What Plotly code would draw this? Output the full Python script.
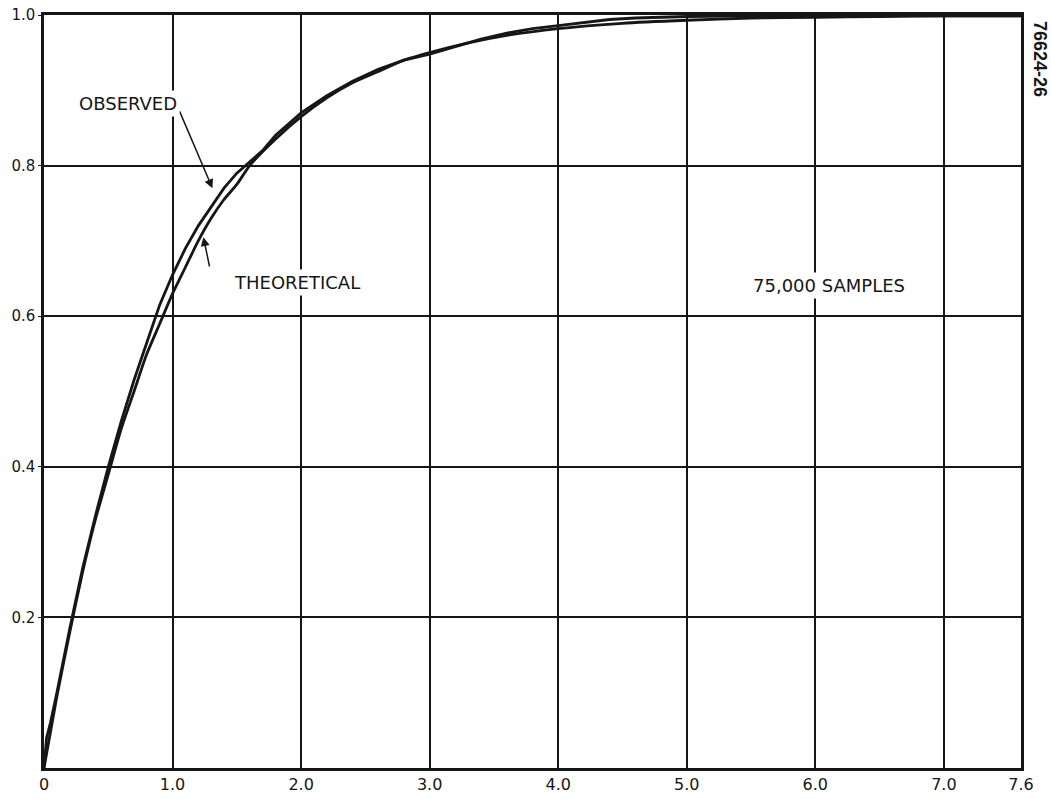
import plotly.graph_objects as go

# Theoretical curve
theo_x = [0, 0.1, 0.2, 0.3, 0.4, 0.5, 0.6, 0.7, 0.8, 0.9, 1.0, 1.1, 1.2, 1.3, 1.4, 1.5,
          1.6, 1.8, 2.0, 2.2, 2.4, 2.6, 2.8, 3.0, 3.3, 3.6, 4.0, 4.5, 5.0, 5.5, 6.0,
          6.5, 7.0, 7.6]
theo_y = [0, 0.095, 0.18, 0.26, 0.33, 0.39, 0.45, 0.50, 0.55, 0.59, 0.63, 0.665, 0.70,
          0.73, 0.755, 0.775, 0.80, 0.835, 0.865, 0.89, 0.91, 0.925, 0.94, 0.95, 0.963,
          0.973, 0.982, 0.989, 0.993, 0.996, 0.997, 0.998, 0.999, 0.999]

# Observed curve
obs_x = [0, 0.02, 0.05, 0.1, 0.2, 0.3, 0.4, 0.5, 0.6, 0.7, 0.8, 0.85, 0.9, 1.0, 1.1,
         1.2, 1.3, 1.4, 1.5, 1.6, 1.7, 1.8, 2.0, 2.2, 2.4, 2.6, 2.8, 3.0, 3.2, 3.4,
         3.6, 3.8, 4.0, 4.2, 4.4, 4.6, 5.0, 5.5, 6.0, 6.5, 7.0, 7.6]
obs_y = [0, 0.04, 0.06, 0.10, 0.185, 0.265, 0.335, 0.40, 0.46, 0.515, 0.565, 0.59,
         0.615, 0.655, 0.69, 0.72, 0.745, 0.77, 0.79, 0.805, 0.82, 0.84, 0.87, 0.893,
         0.912, 0.928, 0.94, 0.948, 0.958, 0.968, 0.976, 0.982, 0.986, 0.990, 0.994,
         0.996, 0.998, 0.999, 0.999, 0.999, 0.999, 0.999]

x_tickvals = [0, 1, 2, 3, 4, 5, 6, 7, 7.6]
x_ticktext = ["0", "1.0", "2.0", "3.0", "4.0", "5.0", "6.0", "7.0", "7.6"]
y_tickvals = [0.2, 0.4, 0.6, 0.8, 1.0]
y_ticktext = ["0.2", "0.4", "0.6", "0.8", "1.0"]

INK = "#161616"
FONT = "Liberation Sans, Arial, sans-serif"
LBL = "DejaVu Sans, sans-serif"

fig = go.Figure()
fig.add_trace(go.Scatter(x=theo_x, y=theo_y, mode="lines", name="THEORETICAL",
                         line=dict(color=INK, width=2.8, shape="spline", smoothing=0.6)))
fig.add_trace(go.Scatter(x=obs_x, y=obs_y, mode="lines", name="OBSERVED",
                         line=dict(color=INK, width=2.8)))

annotations = [
    # arrows
    dict(x=1.31, y=0.77, ax=1.05, ay=0.874, axref="x", ayref="y", xref="x", yref="y",
         text="", showarrow=True, arrowhead=2, arrowsize=1.2, arrowwidth=1.5,
         arrowcolor=INK),
    dict(x=1.24, y=0.705, ax=1.29, ay=0.664, axref="x", ayref="y", xref="x", yref="y",
         text="", showarrow=True, arrowhead=2, arrowsize=1.2, arrowwidth=1.5,
         arrowcolor=INK),
    # labels
    dict(x=0.65, y=0.882, xref="x", yref="y", text="OBSERVED", showarrow=False,
         font=dict(family=LBL, size=18, color=INK),
         bgcolor="white", borderpad=2),
    dict(x=1.97, y=0.645, xref="x", yref="y", text="THEORETICAL", showarrow=False,
         font=dict(family=LBL, size=18, color=INK),
         bgcolor="white", borderpad=2),
    dict(x=6.11, y=0.641, xref="x", yref="y", text="75,000 SAMPLES", showarrow=False,
         font=dict(family=LBL, size=18, color=INK),
         bgcolor="white", borderpad=2),
    dict(x=1.0195, y=0.9416, xref="paper", yref="paper", text="<b>76624-26</b>",
         showarrow=False, textangle=90, xanchor="center", yanchor="middle",
         font=dict(family=FONT, size=18, color=INK)),
]

fig.update_layout(
    width=1051, height=799,
    margin=dict(l=44, r=30, t=15, b=31, autoexpand=False),
    paper_bgcolor="white", plot_bgcolor="white",
    showlegend=False,
    annotations=annotations,
    font=dict(family=FONT, color=INK),
)
fig.update_xaxes(range=[0, 7.6], tickvals=x_tickvals, ticktext=x_ticktext,
                 showgrid=True, gridcolor=INK, gridwidth=1.5, automargin=False,
                 showline=True, linecolor=INK, linewidth=2.5, mirror=True,
                 zeroline=False, ticks="", tickfont=dict(family=LBL, size=16, color=INK))
fig.update_yaxes(range=[0, 1.0], tickvals=y_tickvals, ticktext=y_ticktext,
                 showgrid=True, gridcolor=INK, gridwidth=1.5, automargin=False,
                 showline=True, linecolor=INK, linewidth=2.5, mirror=True,
                 zeroline=False, ticks="outside", ticklen=3, tickcolor=INK,
                 tickfont=dict(family=LBL, size=15, color=INK))

fig.write_html("out.html", config={"displayModeBar": False},
               post_script="document.body.style.margin='0';document.body.style.overflow='hidden';")
